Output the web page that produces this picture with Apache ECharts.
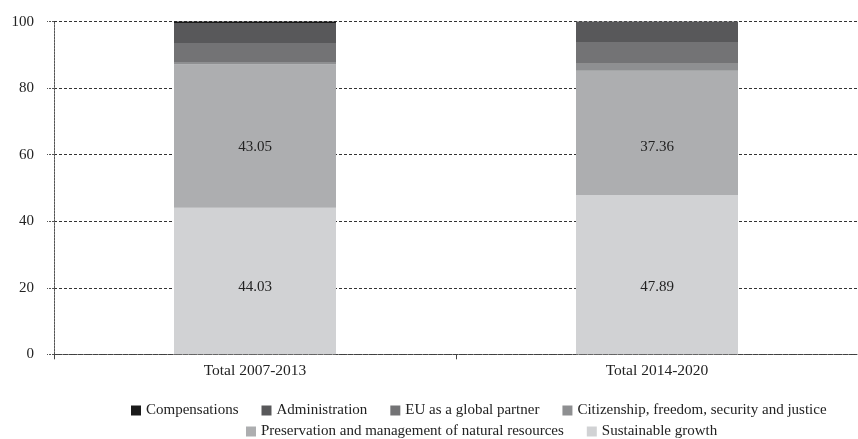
<!DOCTYPE html>
<html>
<head>
<meta charset="utf-8">
<script src="https://cdn.jsdelivr.net/npm/echarts@6/dist/echarts.min.js"></script>
<style>
  html, body { margin: 0; padding: 0; background: #fff; }
  #chart { width: 858px; height: 439px; }
</style>
</head>
<body>
<div id="chart"></div>
<script>
// Budget headings as a share of the multiannual financial framework (%)
const categories = ['Total 2007-2013', 'Total 2014-2020'];

const sustainableGrowth = [44.03, 47.89];
const naturalResources  = [43.05, 37.36];
const citizenship       = [0.78, 2.10];
const globalPartner     = [5.71, 6.50];
const administration    = [6.03, 6.15];
const compensations     = [0.40, 0.00];

const yTicks = [0, 20, 40, 60, 80, 100];

// Stack order from the bottom up
const seriesDefs = [
  { name: 'Sustainable growth', data: sustainableGrowth, color: '#d1d2d4', labelled: true },
  { name: 'Preservation and management of natural resources', data: naturalResources, color: '#adaeb0', labelled: true },
  { name: 'Citizenship, freedom, security and justice', data: citizenship, color: '#8e8f91' },
  { name: 'EU as a global partner', data: globalPartner, color: '#737375' },
  { name: 'Administration', data: administration, color: '#58585a' },
  { name: 'Compensations', data: compensations, color: '#1a1a1a' }
];

// Value level (on the y scale) at which each labelled segment's number sits
const labelLevel = { 'Sustainable growth': 20.1, 'Preservation and management of natural resources': 62.3 };

const FONT = '"Liberation Serif", "Times New Roman", serif';
const FS = 15;

const chart = echarts.init(document.getElementById('chart'), null, { renderer: 'canvas' });

const legendText = { fontFamily: FONT, fontSize: FS, color: '#222' };

function buildSeries(offsets) {
  return seriesDefs.map((d, si) => ({
    name: d.name,
    type: 'bar',
    stack: 'total',
    barWidth: 162,
    itemStyle: { color: d.color },
    emphasis: { disabled: true },
    data: d.data.map((v, i) => ({
      value: v,
      label: d.labelled ? {
        show: true,
        position: 'inside',
        formatter: () => v.toFixed(2),
        fontFamily: FONT,
        fontSize: FS,
        color: '#222',
        offset: [0, offsets ? offsets[si][i] : 0]
      } : { show: false }
    }))
  }));
}

const option = {
  animation: false,
  grid: { left: 54, top: 21.6, width: 812, height: 332.7, containLabel: false },
  xAxis: {
    type: 'category',
    data: categories,
    axisLine: { lineStyle: { color: '#444', type: [2, 1], width: 1 } },
    axisTick: { show: true, length: 5, lineStyle: { color: '#444' } },
    axisLabel: { fontFamily: FONT, fontSize: 15.5, color: '#222', margin: 9 }
  },
  yAxis: {
    type: 'value',
    min: yTicks[0],
    max: yTicks[yTicks.length - 1],
    interval: yTicks[1] - yTicks[0],
    axisLine: { show: true, lineStyle: { color: '#555', type: [2, 1], width: 1 } },
    axisTick: { show: true, length: 7, lineStyle: { color: '#555', type: [2, 1] } },
    axisLabel: { fontFamily: FONT, fontSize: FS, color: '#222', margin: 20 },
    splitLine: { show: true, lineStyle: { color: '#333', type: [3, 2], width: 1 } }
  },
  legend: [
    {
      data: ['Compensations', 'Administration', 'EU as a global partner', 'Citizenship, freedom, security and justice'],
      left: 126, top: 398, itemWidth: 10, itemHeight: 10, itemGap: 23,
      icon: 'rect', textStyle: legendText, selectedMode: false
    },
    {
      data: ['Preservation and management of natural resources', 'Sustainable growth'],
      left: 241, top: 419, itemWidth: 10, itemHeight: 10, itemGap: 23,
      icon: 'rect', textStyle: legendText, selectedMode: false
    }
  ],
  series: buildSeries(null)
};

chart.setOption(option);

// Shift each labelled number from its segment's middle down to a shared level
const offsets = seriesDefs.map((d, si) => d.data.map((v, i) => {
  if (!d.labelled) return 0;
  let base = 0;
  for (let k = 0; k < si; k++) base += seriesDefs[k].data[i];
  const mid = base + v / 2;
  const yMid = chart.convertToPixel({ yAxisIndex: 0 }, mid);
  const yLab = chart.convertToPixel({ yAxisIndex: 0 }, labelLevel[d.name]);
  return yLab - yMid;
}));
chart.setOption({ series: buildSeries(offsets) });
</script>
</body>
</html>
